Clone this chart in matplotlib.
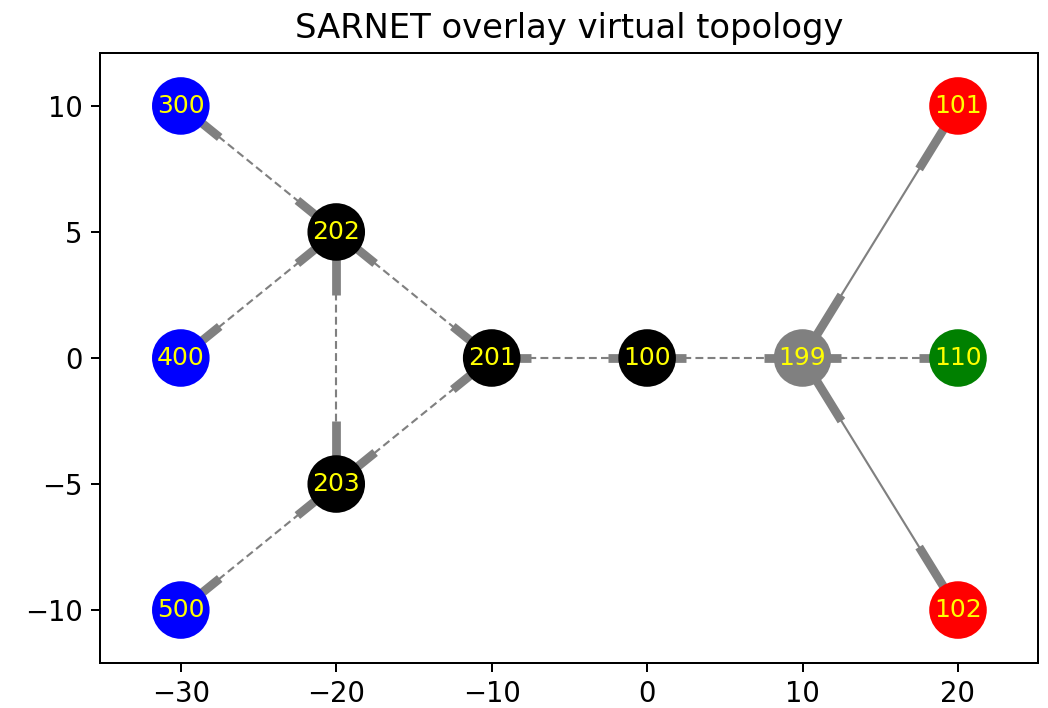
import matplotlib
matplotlib.use("Agg")
import matplotlib.pyplot as plt
from matplotlib.collections import LineCollection

# node positions
nodes = ["300", "400", "500", "202", "203", "201", "100", "199", "101", "110", "102"]
xs = [-30, -30, -30, -20, -20, -10, 0, 10, 20, 20, 20]
ys = [10, 0, -10, 5, -5, 0, 0, 0, 10, 0, -10]
colors = ["blue", "blue", "blue", "black", "black", "black", "black",
          "gray", "red", "green", "red"]

# links (all two-way); dashed overlay links and solid links
dashed_links = [("300", "202"), ("400", "202"), ("500", "203"), ("202", "203"),
                ("202", "201"), ("203", "201"), ("201", "100"), ("100", "199"),
                ("199", "110")]
solid_links = [("199", "101"), ("199", "102")]

pos = {n: (x, y) for n, x, y in zip(nodes, xs, ys)}

DPI = 180
fig = plt.figure(figsize=(1048 / DPI, 708 / DPI), dpi=DPI)
ax = fig.add_axes([0.0954, 0.0636, 0.8951, 0.8615])


def draw_links(links, style):
    segs = [(pos[a], pos[b]) for a, b in links]
    ax.add_collection(LineCollection(segs, colors="gray", linewidths=0.85,
                                     linestyles=style, zorder=1))
    # thick stub on the last quarter of each direction, like old networkx arrows
    heads = []
    for (x1, y1), (x2, y2) in segs:
        heads.append(((x1 + 0.75 * (x2 - x1), y1 + 0.75 * (y2 - y1)), (x2, y2)))
        heads.append(((x2 + 0.75 * (x1 - x2), y2 + 0.75 * (y1 - y2)), (x1, y1)))
    ax.add_collection(LineCollection(heads, colors="gray", linewidths=3.5,
                                     zorder=1))


draw_links(dashed_links, (0, (3.7, 2.0)))
draw_links(solid_links, "solid")

ax.scatter(xs, ys, s=485, c=colors, zorder=2)
for n, x, y in zip(nodes, xs, ys):
    ax.text(x, y, n, color="yellow", fontsize=10, ha="center", va="center",
            zorder=3)

ax.set_xlim(-35.2, 25.15)
ax.set_ylim(-12.1, 12.1)
ax.set_xticks([-30, -20, -10, 0, 10, 20])
ax.set_yticks([-10, -5, 0, 5, 10])
ax.tick_params(labelsize=11)
ax.set_title("SARNET overlay virtual topology", fontsize=13.5)

fig.savefig("out.png", dpi=DPI)
